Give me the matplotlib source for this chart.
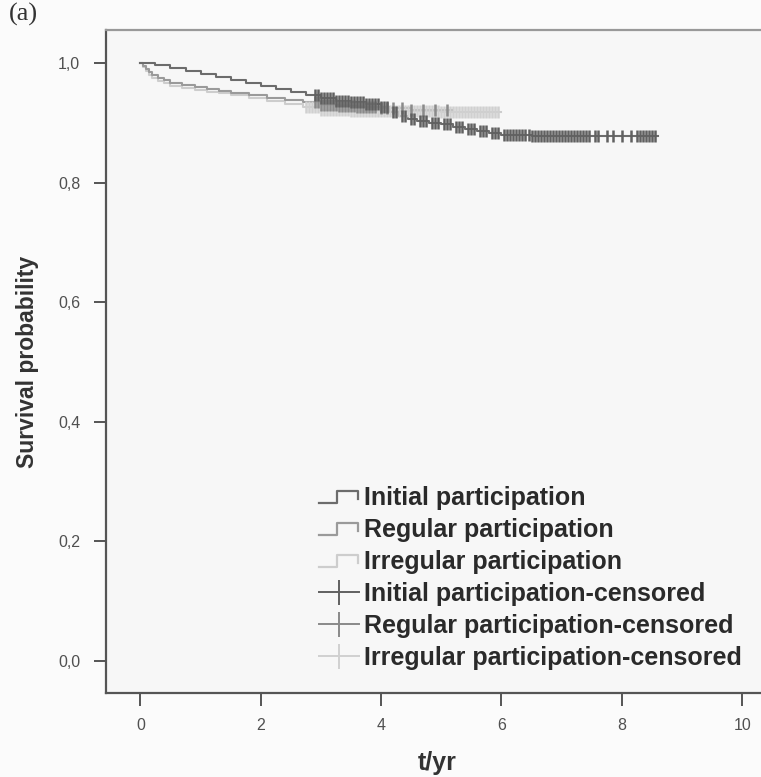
import numpy as np
import matplotlib
matplotlib.use("Agg")
import matplotlib.pyplot as plt
from matplotlib.lines import Line2D
from matplotlib.legend_handler import HandlerBase

# ---------------- data ----------------
group_names = ["Initial participation", "Regular participation", "Irregular participation"]

initial_times = [0, 0.25, 0.5, 0.75, 1.0, 1.25, 1.5, 1.75, 2.0, 2.25, 2.5, 2.75, 3.0, 3.25, 3.5,
                 3.75, 4.0, 4.15, 4.3, 4.45, 4.6, 4.8, 5.0, 5.2, 5.4, 5.6, 5.8, 6.0, 6.5, 7.0]
initial_surv = [1.0, 0.997, 0.992, 0.987, 0.982, 0.977, 0.972, 0.966, 0.961, 0.956, 0.951, 0.946,
                0.941, 0.937, 0.934, 0.931, 0.927, 0.918, 0.911, 0.906, 0.903, 0.900, 0.897,
                0.893, 0.889, 0.886, 0.883, 0.880, 0.878, 0.877]
initial_end = 8.6

regular_times = [0, 0.05, 0.1, 0.15, 0.2, 0.3, 0.4, 0.5, 0.7, 0.9, 1.1, 1.3, 1.5, 1.8, 2.1, 2.4,
                 2.7, 3.0, 3.3, 3.6, 4.0, 4.5]
regular_surv = [1.0, 0.994, 0.989, 0.984, 0.980, 0.975, 0.971, 0.967, 0.963, 0.959, 0.956, 0.953,
                0.950, 0.946, 0.942, 0.938, 0.934, 0.930, 0.928, 0.926, 0.924, 0.922]
regular_end = 5.2

irregular_times = [0, 0.05, 0.1, 0.15, 0.2, 0.3, 0.4, 0.5, 0.7, 0.9, 1.1, 1.3, 1.5, 1.8, 2.1, 2.4,
                   2.7, 3.0, 3.5, 4.0, 5.0]
irregular_surv = [1.0, 0.993, 0.986, 0.980, 0.975, 0.970, 0.966, 0.962, 0.958, 0.955, 0.952,
                  0.949, 0.946, 0.942, 0.937, 0.932, 0.927, 0.922, 0.920, 0.919, 0.918]
irregular_end = 6.0

initial_censor = [2.9, 2.95, 3.0, 3.05, 3.1, 3.15, 3.2, 3.25, 3.3, 3.35, 3.4, 3.45, 3.5, 3.55,
                  3.6, 3.65, 3.7, 3.75, 3.8, 3.85, 3.9, 3.95, 4.0, 4.05, 4.1, 4.2, 4.25, 4.35,
                  4.4, 4.5, 4.55, 4.65, 4.7, 4.75, 4.85, 4.9, 4.95, 5.05, 5.1, 5.15, 5.25, 5.3,
                  5.35, 5.45, 5.5, 5.55, 5.65, 5.7, 5.75, 5.85, 5.9, 5.95, 6.05, 6.1, 6.15, 6.2,
                  6.25, 6.3, 6.35, 6.4, 6.45, 6.5, 6.55, 6.6, 6.65, 6.7, 6.75, 6.8, 6.85, 6.9,
                  6.95, 7.0, 7.05, 7.1, 7.15, 7.2, 7.25, 7.3, 7.35, 7.4, 7.45, 7.55, 7.6, 7.75,
                  7.85, 8.0, 8.15, 8.25, 8.3, 8.35, 8.4, 8.45, 8.5, 8.55]
regular_censor = [2.9, 2.95, 3.0, 3.05, 3.1, 3.15, 3.2, 3.25, 3.3, 3.35, 3.4, 3.45, 3.5, 3.55,
                  3.6, 3.65, 3.7, 3.75, 3.8, 3.85, 3.9, 4.0, 4.1, 4.2, 4.35, 4.5, 4.7, 4.9, 5.1]
irregular_censor = [2.75, 2.8, 2.85, 2.9, 2.95, 3.0, 3.05, 3.1, 3.15, 3.2, 3.25, 3.3, 3.35, 3.4,
                    3.45, 3.5, 3.55, 3.6, 3.65, 3.7, 3.75, 3.8, 3.85, 3.9, 3.95, 4.0, 4.05, 4.1,
                    4.15, 4.2, 4.25, 4.3, 4.35, 4.4, 4.45, 4.5, 4.55, 4.6, 4.65, 4.7, 4.75, 4.8,
                    4.85, 4.9, 4.95, 5.0, 5.05, 5.1, 5.15, 5.2, 5.25, 5.3, 5.35, 5.4, 5.45, 5.5,
                    5.55, 5.6, 5.65, 5.7, 5.75, 5.8, 5.85, 5.9, 5.95]

x_ticks = [0, 2, 4, 6, 8, 10]
y_ticks = [0.0, 0.2, 0.4, 0.6, 0.8, 1.0]
y_tick_labels = ["0,0", "0,2", "0,4", "0,6", "0,8", "1,0"]

line_colors = ["#6c6c6c", "#9a9a9a", "#cdcdcd"]
censor_colors = ["#606060", "#8a8a8a", "#d0d0d0"]

# ---------------- figure ----------------
plt.rcParams['font.family'] = ['Liberation Sans', 'DejaVu Sans']
fig = plt.figure(figsize=(7.61, 7.77), dpi=100, facecolor="#fbfbfb")
ax = fig.add_axes([0.1393, 0.1081, 0.8707, 0.8533])
ax.set_facecolor("#f7f7f7")

groups = [
    (initial_times, initial_surv, initial_end, initial_censor),
    (regular_times, regular_surv, regular_end, regular_censor),
    (irregular_times, irregular_surv, irregular_end, irregular_censor),
]

for idx in [2, 1, 0]:
    t, s, tend, cens = groups[idx]
    tt = list(t) + [tend]
    ss = list(s) + [s[-1]]
    ax.step(tt, ss, where="post", color=line_colors[idx], lw=1.5, zorder=2 + (2 - idx))
for idx in [2, 1, 0]:
    t, s, tend, cens = groups[idx]
    cens = np.asarray(cens)
    pos = np.searchsorted(np.asarray(t), cens, side="right") - 1
    cy = np.asarray(s)[pos]
    ax.plot(cens, cy, ls="none", marker="|", ms=8, mew=1.8, color=censor_colors[idx],
            zorder=5 + (2 - idx))

ax.set_xlim(-0.571, 10.44)
ax.set_ylim(-0.0535, 1.055)
ax.set_xticks(x_ticks)
ax.set_xticklabels([str(v) for v in x_ticks])
ax.set_yticks(y_ticks)
ax.set_yticklabels(y_tick_labels)
ax.tick_params(axis="both", direction="out", length=9, width=1.4, color="#555555",
               labelsize=11.5, labelcolor="#505050")
ax.tick_params(axis="x", pad=9)
ax.tick_params(axis="y", pad=9.5)

for sp in ["left", "bottom"]:
    ax.spines[sp].set_color("#555555")
    ax.spines[sp].set_linewidth(1.6)
ax.spines["top"].set_color("#999999")
ax.spines["top"].set_linewidth(1.6)
ax.spines["right"].set_visible(False)

ax.set_xlabel("t/yr", fontsize=18, fontweight="bold", color="#333333", labelpad=13)
ax.set_ylabel("Survival probability", fontsize=16.5, fontweight="bold", color="#333333",
              labelpad=14)

fig.text(0.012, 0.996, "(a)", fontsize=19, family=["Liberation Serif", "DejaVu Serif"],
         color="#333333", va="top", ha="left")


class StepHandler(HandlerBase):
    def create_artists(self, legend, orig_handle, xdescent, ydescent, width, height, fontsize, trans):
        xs = np.array([0.0, 0.45, 0.45, 0.97, 0.97]) * width - xdescent
        ys = np.array([0.1, 0.1, 0.8, 0.8, 0.35]) * height - ydescent
        ln = Line2D(xs, ys, color=orig_handle.get_color(), lw=1.6, transform=trans)
        return [ln]


handles = []
labels = []
for i, name in enumerate(group_names):
    handles.append(Line2D([], [], color=line_colors[i]))
    labels.append(name)
for i, name in enumerate(group_names):
    handles.append(Line2D([0], [0], color=censor_colors[i], lw=1.4, marker="|", ms=18, mew=1.4))
    labels.append(name + "-censored")

handler_map = {h: StepHandler() for h in handles[:3]}
leg = ax.legend(handles, labels, handler_map=handler_map, loc="lower right",
                bbox_to_anchor=(0.975, 0.02), frameon=False,
                prop={"size": 18, "weight": "bold"}, labelspacing=0.32,
                handlelength=1.6, handletextpad=0.2, borderaxespad=0.0)
for txt in leg.get_texts():
    txt.set_color("#2a2a2a")

fig.savefig("out.png", dpi=100, facecolor=fig.get_facecolor())
